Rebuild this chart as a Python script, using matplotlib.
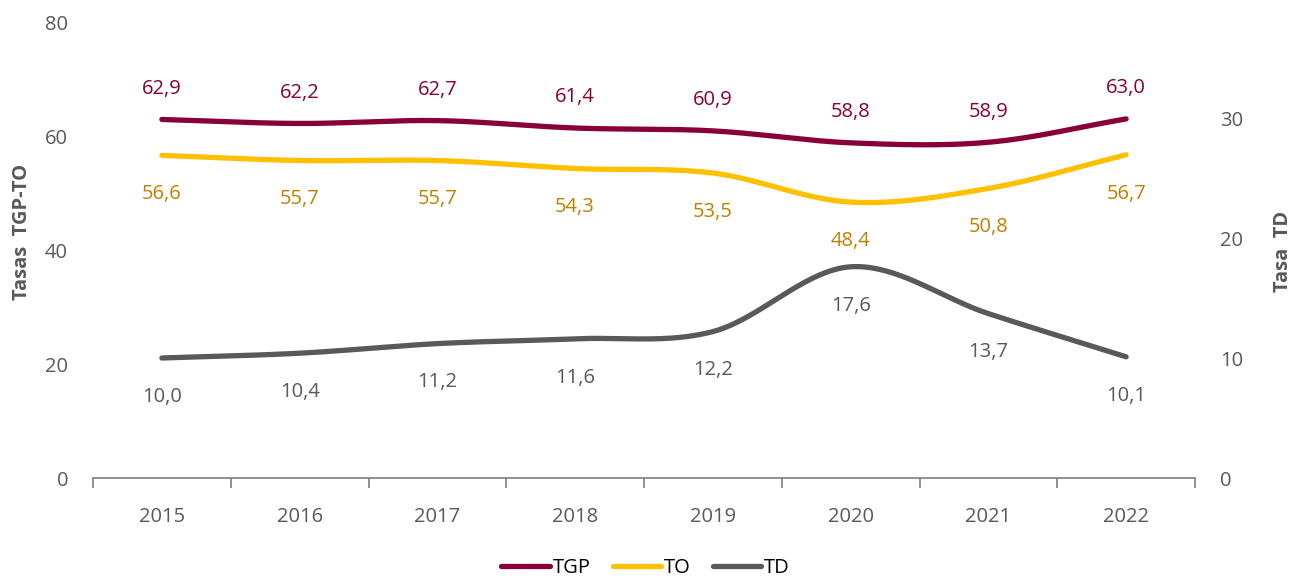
import numpy as np
import matplotlib
matplotlib.use("Agg")
import matplotlib.pyplot as plt
from matplotlib.ticker import FixedLocator

plt.rcParams['font.family'] = ['Open Sans', 'DejaVu Sans']

years = ['2015', '2016', '2017', '2018', '2019', '2020', '2021', '2022']
tgp = [62.9, 62.2, 62.7, 61.4, 60.9, 58.8, 58.9, 63.0]
to = [56.6, 55.7, 55.7, 54.3, 53.5, 48.4, 50.8, 56.7]
td = [10.0, 10.4, 11.2, 11.6, 12.2, 17.6, 13.7, 10.1]

C_TGP = '#870037'
C_TO = '#FFC000'
C_TO_LBL = '#BF8000'
C_TD = '#595959'
C_TXT = '#595959'


def smooth(x, y, n=40):
    # Catmull-Rom rendering of the line between the data points
    x = np.asarray(x, float); y = np.asarray(y, float)
    px = np.concatenate([[2 * x[0] - x[1]], x, [2 * x[-1] - x[-2]]])
    py = np.concatenate([[2 * y[0] - y[1]], y, [2 * y[-1] - y[-2]]])
    xs, ys = [], []
    t = np.linspace(0, 1, n)
    for i in range(1, len(px) - 2):
        p0, p1, p2, p3 = [np.array([px[j], py[j]]) for j in (i - 1, i, i + 1, i + 2)]
        b1 = p1 + (p2 - p0) / 6
        b2 = p2 - (p3 - p1) / 6
        pts = ((1 - t)[:, None] ** 3 * p1 + 3 * ((1 - t) ** 2 * t)[:, None] * b1
               + 3 * ((1 - t) * t ** 2)[:, None] * b2 + (t ** 3)[:, None] * p2)
        xs.append(pts[:, 0]); ys.append(pts[:, 1])
    return np.concatenate(xs), np.concatenate(ys)


fig = plt.figure(figsize=(12.99, 5.82), dpi=100)
ax = fig.add_axes([93 / 1299, 1 - 478 / 582, (1195 - 93) / 1299, (478 - 22) / 582])
ax2 = ax.twinx()

x = np.arange(len(years))
lw = 3.8
sx, sy = smooth(x, tgp)
l1, = ax.plot(sx, sy, color=C_TGP, lw=lw, solid_capstyle='round', label='TGP')
sx, sy = smooth(x, to)
l2, = ax.plot(sx, sy, color=C_TO, lw=lw, solid_capstyle='round', label='TO')
sx, sy = smooth(x, td)
l3, = ax2.plot(sx, sy, color=C_TD, lw=lw, solid_capstyle='round', label='TD')

fs = 14.5
for i, v in enumerate(tgp):
    ax.annotate(f"{v:.1f}".replace('.', ','), (i, v), xytext=(0, 22), textcoords='offset points',
                ha='center', va='center', color=C_TGP, fontsize=fs)
for i, v in enumerate(to):
    ax.annotate(f"{v:.1f}".replace('.', ','), (i, v), xytext=(0, -28), textcoords='offset points',
                ha='center', va='center', color=C_TO_LBL, fontsize=fs)
for i, v in enumerate(td):
    ax2.annotate(f"{v:.1f}".replace('.', ','), (i, v), xytext=(0, -28), textcoords='offset points',
                 ha='center', va='center', color=C_TD, fontsize=fs)

ax.set_xlim(-0.5, len(years) - 0.5)
ax.set_ylim(0, 80)
ax2.set_ylim(0, 38)
ax.set_yticks([0, 20, 40, 60, 80])
ax2.set_yticks([0, 10, 20, 30])
ax.set_xticks(x)
ax.set_xticklabels(years)
ax.xaxis.set_minor_locator(FixedLocator(np.arange(-0.5, len(years), 1.0)))

for a in (ax, ax2):
    for s in ('top', 'left', 'right', 'bottom'):
        a.spines[s].set_visible(False)
ax.spines['bottom'].set_visible(True)
ax.spines['bottom'].set_color('#7F7F7F')
ax.spines['bottom'].set_linewidth(1.2)

ax.tick_params(axis='x', which='major', length=0, pad=21, labelsize=fs, labelcolor=C_TXT)
ax.tick_params(axis='x', which='minor', length=7, width=1.2, color='#7F7F7F', direction='out')
ax.tick_params(axis='y', length=0, pad=18, labelsize=fs, labelcolor=C_TXT)
ax2.tick_params(axis='y', length=0, pad=18, labelsize=fs, labelcolor=C_TXT)

fig.text(22 / 1299, 1 - 232 / 582, 'Tasas  TGP-TO', rotation=90, ha='center', va='center',
         fontsize=14.5, fontweight='bold', color=C_TXT)
fig.text(1283 / 1299, 1 - 251 / 582, 'Tasa  TD', rotation=90, ha='center', va='center',
         fontsize=14.5, fontweight='bold', color=C_TXT)

fig.legend(handles=[l1, l2, l3], loc='center', bbox_to_anchor=(0.497, 1 - 568 / 582), ncol=3,
           frameon=False, fontsize=fs, handlelength=2.4, handletextpad=0.15, columnspacing=1.1)

fig.savefig('out.png', dpi=100)
